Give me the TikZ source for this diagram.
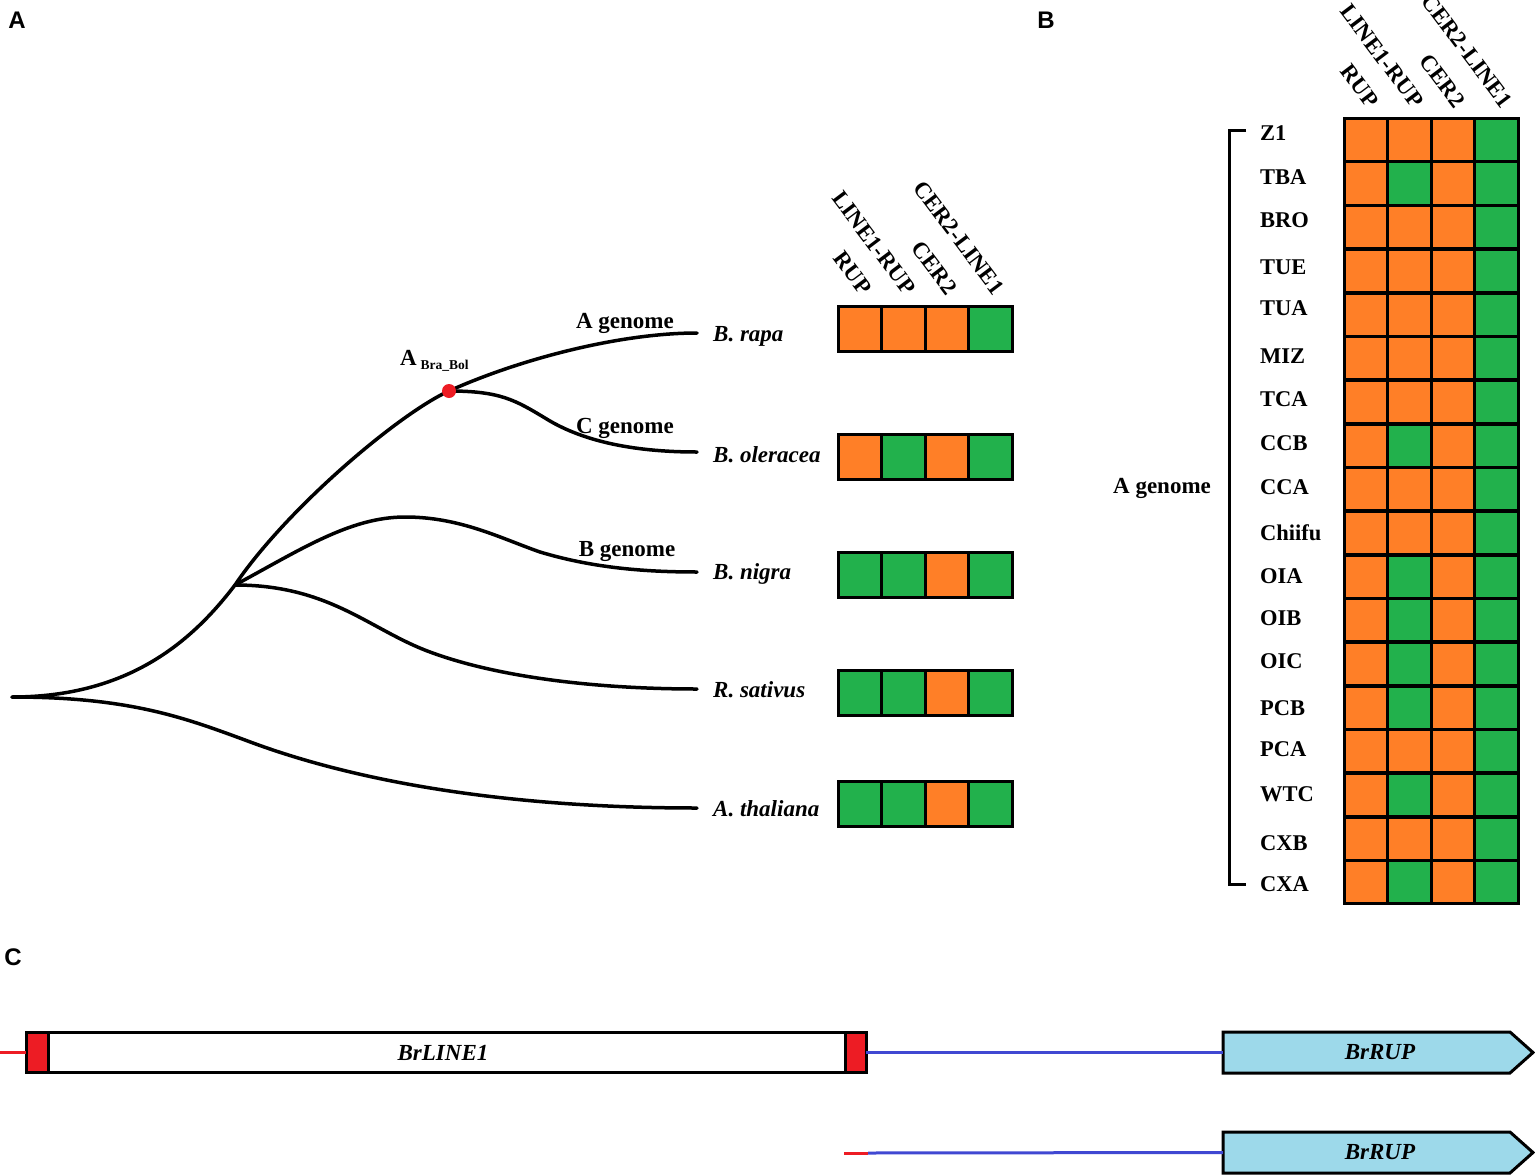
\documentclass[tikz,border=0pt]{standalone}
\usepackage{fontspec}
\setmainfont{Liberation Serif}
\newfontfamily\panelfont{Liberation Sans}
\definecolor{orng}{RGB}{255,127,39}
\definecolor{grn}{RGB}{34,177,76}
\definecolor{genered}{RGB}{237,28,36}
\definecolor{lineblue}{RGB}{64,72,210}
\definecolor{genefill}{RGB}{157,217,234}
\newcommand{\generowA}[3]{%
  \foreach \cc [count=\ii from 0] in {#3} {
    \node[cellA, fill=\cc] (#1\ii) at ({838+21.75+\ii*43.5}, #2) {};
  }}
\newcommand{\generowB}[3]{%
  \foreach \cc [count=\ii from 0] in {#3} {
    \node[cellB, fill=\cc] (#1\ii) at ({1344+21.75+\ii*43.5}, #2) {};
  }}
\newcommand{\genearrow}[2]{% #1 name, #2 y centre
  \draw[draw=black, line width=3pt, fill=genefill, line join=miter]
    (1223,#2-20.5) -- (1510,#2-20.5) -- (1533,#2) -- (1510,#2+20.5) -- (1223,#2+20.5) -- cycle;
  \coordinate (#1w) at (1223,#2);
  \node[genetxt] (#1) at (1380,#2) {BrRUP};}
\begin{document}
\begin{tikzpicture}[x=1pt,y=-1pt,
  lbl/.style={font=\fontsize{23}{27}\selectfont\bfseries, inner sep=0, anchor=base},
  sp/.style={font=\fontsize{23}{27}\selectfont\bfseries\itshape, inner sep=0, anchor=base west},
  rowlbl/.style={font=\fontsize{22.5}{26}\selectfont\bfseries, inner sep=0, anchor=base west},
  hdr/.style={font=\fontsize{23}{27}\selectfont\bfseries, inner sep=0, rotate=-53, anchor=east},
  branch/.style={line width=3.5pt, line cap=round},
  cellA/.style={draw=black, line width=3pt, minimum width=43.5pt, minimum height=45pt, inner sep=0, outer sep=0},
  cellB/.style={draw=black, line width=3pt, minimum width=43.5pt, minimum height=43.67pt, inner sep=0, outer sep=0},
  panel/.style={font={\panelfont\bfseries\fontsize{24}{28}\selectfont}, inner sep=0, anchor=base},
  genetxt/.style={inner sep=0, font=\fontsize{23}{27}\selectfont\bfseries\itshape},
  redln/.style={genered, line width=3pt},
  blueln/.style={lineblue, line width=3pt}
]
\useasboundingbox (0,0) rectangle (1535,1175);

% panel letters
\node[panel] (pA) at (17,28) {A};
\node[panel] (pB) at (1046,28) {B};
\node[panel] (pC) at (13,965) {C};

% ---------------- Panel A: tree ----------------
\coordinate (root) at (12,697);
\coordinate (n1) at (235,585);
\coordinate (n2) at (449,391);
\coordinate (erapa) at (697,333);
\coordinate (eole) at (697,452);
\coordinate (enig) at (697,572);
\coordinate (esat) at (697,689);
\coordinate (etha) at (697,808);

\draw[branch] (root) .. controls (130,697) and (193,640) .. (n1)
   .. controls (287,508) and (400,413) .. (n2)
   .. controls (520,359) and (620,333) .. (erapa);
\draw[branch] (n2) .. controls (500,391) and (515,400) .. (545,418)
   .. controls (580,440) and (630,452) .. (eole);
\draw[branch] (n1) .. controls (300,550) and (350,517) .. (405,517)
   .. controls (460,517) and (500,538) .. (540,552)
   .. controls (590,567) and (640,572) .. (enig);
\draw[branch] (n1) .. controls (330,585) and (370,630) .. (430,652)
   .. controls (500,678) and (600,689) .. (esat);
\draw[branch] (root) .. controls (130,697) and (185,718) .. (245,740)
   .. controls (350,780) and (500,808) .. (etha);
\fill[genered] (n2) circle (7pt);

\node[lbl] (gA) at (625,328) {A genome};
\node[lbl] (gC) at (625,433) {C genome};
\node[lbl] (gB) at (627,556) {B genome};
\node[inner sep=0, anchor=base west, font=\fontsize{23}{27}\selectfont\bfseries] (abra) at (400,365)
   {A\,\raisebox{-4pt}{\fontsize{13.5}{15}\selectfont Bra\_Bol}};

\node[sp] (brapa) at (713,341) {B. rapa};
\node[sp] (bole) at (713,462) {B. oleracea};
\node[sp] (bnig) at (713,579) {B. nigra};
\node[sp] (rsat) at (713,697) {R. sativus};
\node[sp] (atha) at (713,816) {A. thaliana};

% headers A
\node[hdr] (hA1) at (867,292) {RUP};
\node[hdr] (hA2) at (911,292) {LINE1-RUP};
\node[hdr] (hA3) at (953,292) {CER2};
\node[hdr] (hA4) at (1000,292) {CER2-LINE1};

\generowA{ra}{329}{orng,orng,orng,grn}
\generowA{ol}{457}{orng,grn,orng,grn}
\generowA{ni}{575}{grn,grn,orng,grn}
\generowA{sa}{693}{grn,grn,orng,grn}
\generowA{th}{804}{grn,grn,orng,grn}

% ---------------- Panel B ----------------
\node[hdr] (hB1) at (1374,105) {RUP};
\node[hdr] (hB2) at (1419,105) {LINE1-RUP};
\node[hdr] (hB3) at (1461,105) {CER2};
\node[hdr] (hB4) at (1508,105) {CER2-LINE1};

\foreach \nm/\yy/\yl/\cb [count=\k from 0] in {
  Z1/140/133/orng, TBA/183.5/177/grn, BRO/227/220/orng, TUE/271/267/orng,
  TUA/315/308/orng, MIZ/358/356/orng, TCA/402/399/orng, CCB/446/443/grn,
  CCA/489/487/orng, Chiifu/533/533/orng, OIA/577/576/grn, OIB/620/618/grn,
  OIC/664/661/grn, PCB/708/708/grn, PCA/751/749/orng, WTC/795/794/grn,
  CXB/839/843/orng, CXA/882/884/grn} {
  \node[rowlbl] (lab\k) at (1260,\yl+7.5) {\nm};
  \generowB{r\k c}{\yy}{orng,\cb,orng,grn}
}

\coordinate (brt) at (1246,130);
\coordinate (brb) at (1246,884);
\draw[line width=3pt] (brt) -- (1229,130) -- (1229,884) -- (brb);
\node[lbl] (gAB) at (1162,493) {A genome};

% ---------------- Panel C ----------------
\node[draw=black, line width=3pt, fill=white, minimum width=840pt, minimum height=40pt,
      inner sep=0, outer sep=0] (LINE) at (446,1052.5) {};
\filldraw[fill=genered, draw=black, line width=3pt] (LINE.north west) rectangle ([xshift=22pt]LINE.south west);
\filldraw[fill=genered, draw=black, line width=3pt] (LINE.north east) rectangle ([xshift=-21pt]LINE.south east);
\node[genetxt] (LINEtxt) at (443,1052.5) {BrLINE1};
\genearrow{RUP1}{1052.5}
\coordinate (c0) at (0,1052.5);
\draw[redln] (c0) -- (LINE.west);
\draw[blueln] (LINE.east) -- (RUP1w);

\genearrow{RUP2}{1152.5}
\coordinate (c2) at (844,1153);
\coordinate (c3) at (868,1153);
\draw[redln] (c2) -- (c3);
\draw[blueln] (c3) -- (RUP2w);
\end{tikzpicture}
\end{document}
